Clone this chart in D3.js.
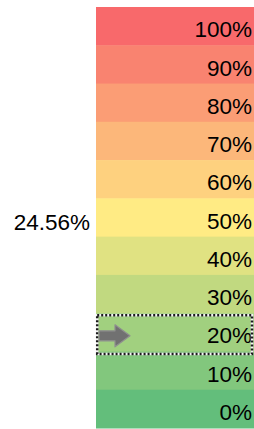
<!DOCTYPE html>
<html>
<head>
<meta charset="utf-8">
<script src="https://cdn.jsdelivr.net/npm/d3@7"></script>
<style>
  body { margin: 0; background: #fff; }
  svg { display: block; }
</style>
</head>
<body>
<div class="holder"></div>
<script>
// buckets shown from top to bottom
var levels = [100, 90, 80, 70, 60, 50, 40, 30, 20, 10, 0]
var levelLabels = ['100%', '90%', '80%', '70%', '60%', '50%', '40%', '30%', '20%', '10%', '0%']
var currentValue = 24.56
var currentLabel = '24.56%'
// excel 3-colour scale stops
var colorStops = [0, 50, 100]
var colorValues = ['#63BE7B', '#FFEB84', '#F8696B']

var width = 254,
    height = 429,
    colLeft = 96,
    colRight = 254,
    colTop = 7,
    colBottom = 428

var chart = d3.select('.holder')
  .append('svg')
  .attr('width', width)
  .attr('height', height)

var yScale = d3.scaleBand()
  .domain(levels)
  .range([colTop, colBottom])
  .padding(0)

var color = d3.scaleLinear()
  .domain(colorStops)
  .range(colorValues)
  .interpolate(d3.interpolateRgb)

var bh = yScale.bandwidth()

chart.selectAll('.cell')
  .data(levels)
  .enter()
  .append('rect')
  .attr('class', 'cell')
  .attr('x', colLeft)
  .attr('y', function(d) { return yScale(d) })
  .attr('width', colRight - colLeft)
  .attr('height', bh + 0.5)
  .attr('fill', function(d) { return color(d) })

chart.selectAll('.lbl')
  .data(levels)
  .enter()
  .append('text')
  .attr('class', 'lbl')
  .attr('x', 252)
  .attr('y', function(d) { return yScale(d) + bh - 8 })
  .attr('text-anchor', 'end')
  .style('font-family', '"Liberation Sans", Arial, sans-serif')
  .style('font-size', '22.5px')
  .attr('fill', '#000')
  .text(function(d, i) { return levelLabels[i] })

// bucket the current value falls in
var bucket = Math.floor(currentValue / 10) * 10
var by = yScale(bucket)

// highlight box, black/white dashes
var box = chart.append('g')
box.append('rect')
  .attr('x', colLeft + 1.2)
  .attr('y', by + 2)
  .attr('width', colRight - colLeft - 3.2)
  .attr('height', bh + 0.5)
  .attr('fill', 'none')
  .attr('stroke', '#f4f4f4')
  .attr('stroke-width', 2.5)
box.append('rect')
  .attr('x', colLeft + 1.2)
  .attr('y', by + 2)
  .attr('width', colRight - colLeft - 3.2)
  .attr('height', bh + 0.5)
  .attr('fill', 'none')
  .attr('stroke', '#1a1a1a')
  .attr('stroke-width', 2.5)
  .attr('stroke-dasharray', '2,2')

// grey arrow
var cy = by + bh / 2 + 3.5
var ax = colLeft + 3
var arrow = d3.path()
arrow.moveTo(ax, cy - 5)
arrow.lineTo(ax + 16, cy - 5)
arrow.lineTo(ax + 16, cy - 11)
arrow.lineTo(ax + 31, cy)
arrow.lineTo(ax + 16, cy + 11)
arrow.lineTo(ax + 16, cy + 5)
arrow.lineTo(ax, cy + 5)
arrow.closePath()

chart.append('path')
  .attr('d', arrow.toString())
  .attr('fill', '#717171')
  .attr('stroke', '#8f8f8f')
  .attr('stroke-width', 1.2)
  .attr('stroke-linejoin', 'round')

chart.append('text')
  .attr('x', 90)
  .attr('y', yScale(50) + bh - 7)
  .attr('text-anchor', 'end')
  .style('font-family', '"Liberation Sans", Arial, sans-serif')
  .style('font-size', '22.5px')
  .attr('fill', '#000')
  .text(currentLabel)
</script>
</body>
</html>
